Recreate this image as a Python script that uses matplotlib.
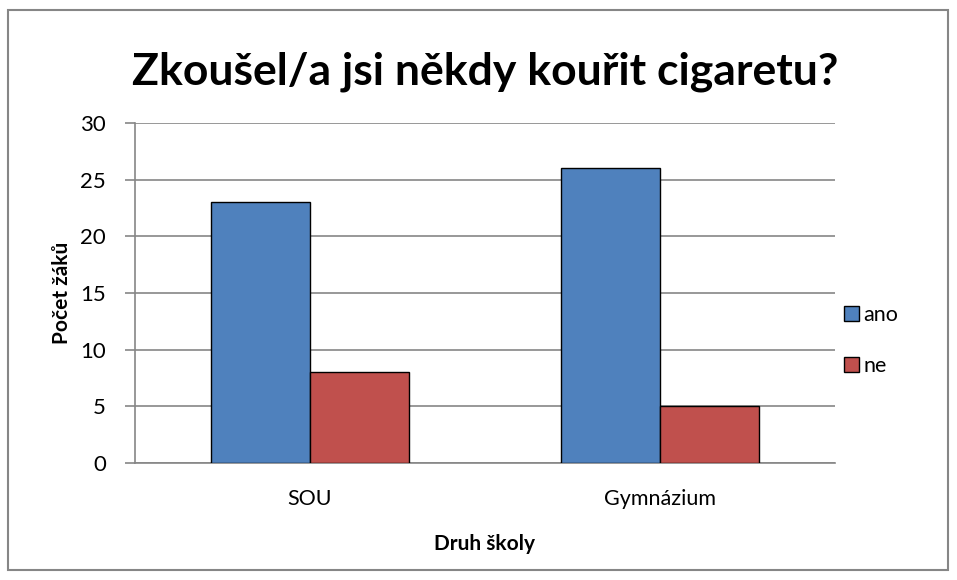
import numpy as np
import matplotlib.pyplot as plt
from matplotlib.patches import Rectangle

categories = ["SOU", "Gymnázium"]
ano = [23, 26]
ne = [8, 5]
series_names = ["ano", "ne"]
yticks = [0, 5, 10, 15, 20, 25, 30]

plt.rcParams['font.family'] = ['Lato', 'DejaVu Sans']

W, H = 957, 580
fig = plt.figure(figsize=(W / 100, H / 100), dpi=100)

# chart frame like Excel
fig.patches.append(Rectangle((8 / W, 10 / H), (948 - 8) / W, (570 - 10) / H,
                             transform=fig.transFigure, fill=False,
                             edgecolor="#868686", linewidth=1.5))

ax = fig.add_axes([135 / W, 1 - 463 / H, (835 - 135) / W, (463 - 123) / H])

x = np.arange(len(categories))
width = 0.284
colors = ["#4F81BD", "#C0504D"]
ax.bar(x - width / 2, ano, width, color=colors[0], edgecolor="black", linewidth=1, label=series_names[0], zorder=3)
ax.bar(x + width / 2, ne, width, color=colors[1], edgecolor="black", linewidth=1, label=series_names[1], zorder=3)

ax.set_xlim(-0.5, len(categories) - 0.5)
ax.set_ylim(0, 30)
ax.set_yticks(yticks)
ax.set_xticks(x)
ax.set_xticklabels(categories)
ax.yaxis.grid(True, color="#868686", linewidth=1.2, zorder=0)
for s in ["top", "right"]:
    ax.spines[s].set_visible(False)
ax.spines["left"].set_color("#868686")
ax.spines["bottom"].set_color("#868686")
ax.spines["left"].set_linewidth(1.2)
ax.spines["bottom"].set_linewidth(1.2)
ax.tick_params(axis="y", length=7, color="#868686", width=1.2, labelsize=16, pad=14)
ax.tick_params(axis="x", length=0, labelsize=15.5, pad=19)

ax.set_ylabel("Počet žáků", fontsize=15, fontweight="bold", labelpad=6)
ax.set_xlabel("Druh školy", fontsize=15, fontweight="bold", labelpad=18)

fig.text(485 / W, 1 - 72 / H, "Zkoušel/a jsi někdy kouřit cigaretu?",
         ha="center", va="center", fontsize=32, fontweight="bold")

ax.legend(loc="center left", bbox_to_anchor=(0.985, 0.36), frameon=False,
          fontsize=15.5, handlelength=0.7, handleheight=0.7, handletextpad=0.2,
          labelspacing=1.45)

fig.savefig("out.png", dpi=100)
plt.close(fig)
